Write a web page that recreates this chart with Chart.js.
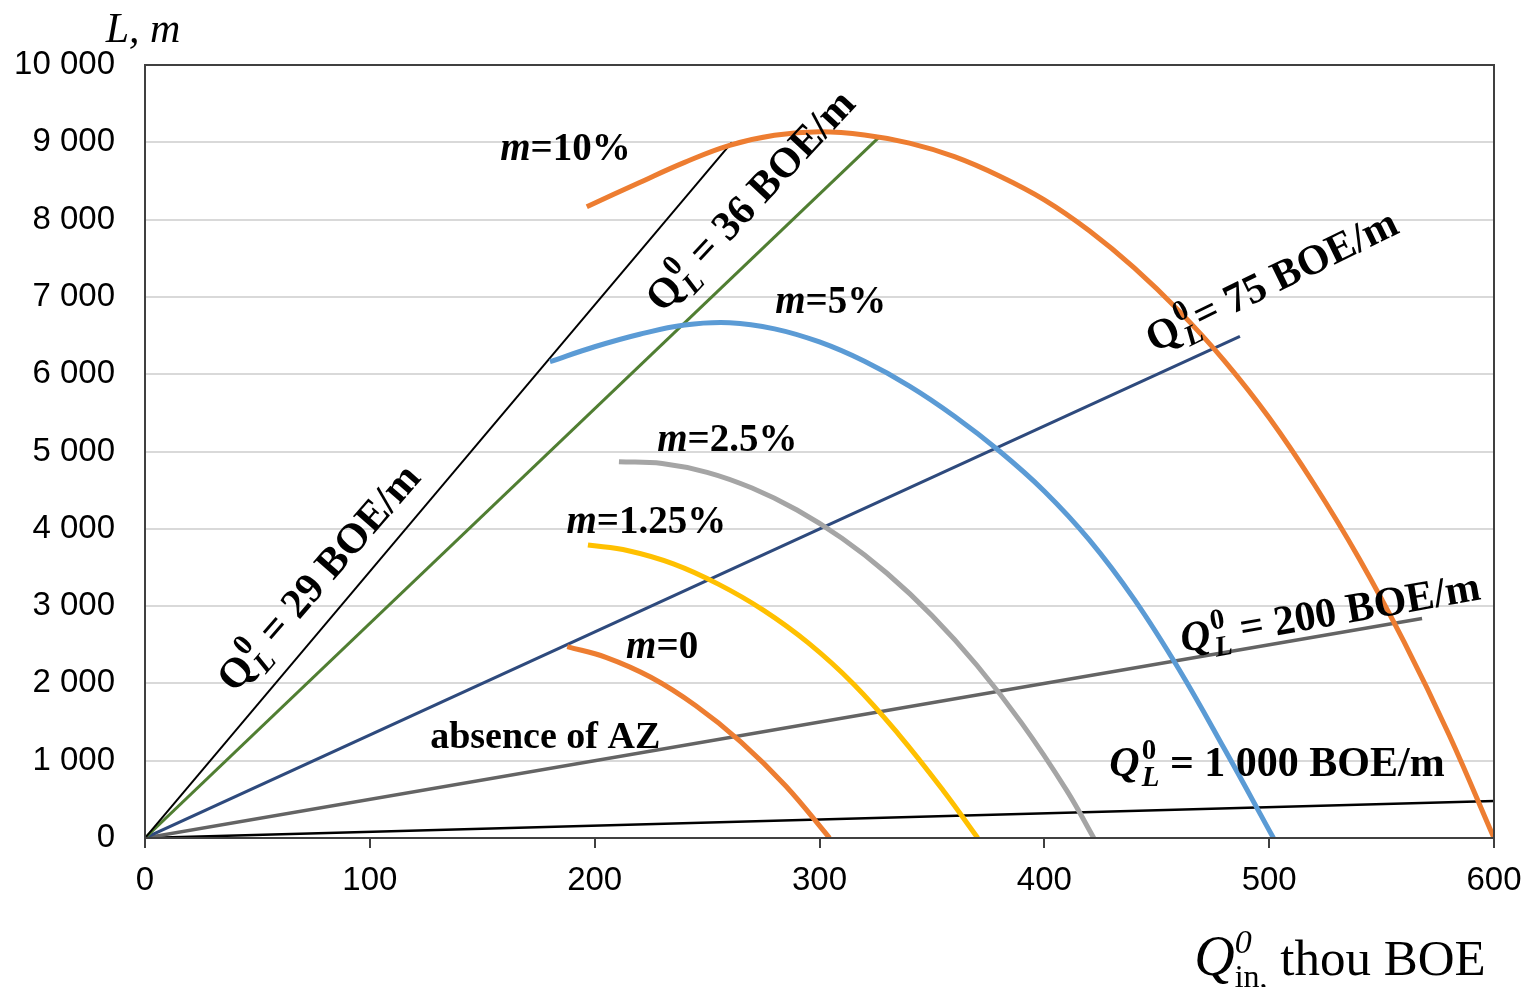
<!DOCTYPE html>
<html>
<head>
<meta charset="utf-8">
<script src="https://cdn.jsdelivr.net/npm/chart.js@4"></script>
<style>
    html, body { margin: 0; padding: 0; background: #fff; }
    canvas { display: block; }
</style>
</head>
<body>
<canvas id="chart" width="1527" height="987"></canvas>
<script>
// Q_L^0 lines (start at origin), end points
const lineNames = ['29', '36', '75', '200', '1000'];
const lineEndQ = [261, 327, 487, 568, 600];
const lineEndL = [9000, 9080, 6490, 2840, 480];

// m curves
const m0Q = [187.8, 205, 225, 245, 265, 285, 304.5];
const m0L = [2475, 2337, 2079, 1711, 1245, 673, 0];
const m125Q = [197, 215, 235, 255, 275, 295, 315, 335, 355, 370.4];
const m125L = [3790, 3716, 3546, 3284, 2948, 2524, 1996, 1348, 615, 0];
const m25Q = [210.8, 230, 250, 270, 290, 310, 330, 350, 370, 390, 410, 422];
const m25L = [4868, 4845, 4731, 4527, 4243, 3877, 3425, 2879, 2235, 1483, 613, 0];
const m5Q = [180.1, 200, 220, 240, 260, 280, 300, 320, 340, 360, 380, 400, 420, 440, 460, 480, 501.9];
const m5L = [6162, 6355, 6517, 6637, 6667, 6587, 6417, 6167, 5847, 5457, 5007, 4487, 3857, 3087, 2177, 1157, 0];
const m10Q = [196.5, 220, 240, 260, 280, 300, 320, 340, 360, 380, 400, 420, 440, 460, 480, 500, 520, 540, 560, 580, 600];
const m10L = [8167, 8480, 8740, 8960, 9090, 9135, 9095, 8990, 8815, 8565, 8256, 7856, 7376, 6816, 6176, 5436, 4576, 3616, 2536, 1336, 0];

const xTicks = [0, 100, 200, 300, 400, 500, 600];
const yTicks = [0, 1000, 2000, 3000, 4000, 5000, 6000, 7000, 8000, 9000, 10000];

const SERIF = '"Liberation Serif", "Times New Roman", serif';
const SANS = '"Liberation Sans", Arial, sans-serif';

function pts(xs, ys) {
    return xs.map((x, i) => ({ x: x, y: ys[i] }));
}

const lineColors = ['#000000', '#507e32', '#2e4a7d', '#646464', '#000000'];
const lineWidths = [2, 3, 3, 3.5, 2.5];

const datasets = [];
lineNames.forEach((n, i) => {
    datasets.push({
        label: 'Q=' + n,
        data: [{ x: 0, y: 0 }, { x: lineEndQ[i], y: lineEndL[i] }],
        borderColor: lineColors[i],
        borderWidth: lineWidths[i],
        pointRadius: 0,
        showLine: true
    });
});

function curve(label, xs, ys, color) {
    return {
        label: label,
        data: pts(xs, ys),
        borderColor: color,
        borderWidth: 5,
        pointRadius: 0,
        showLine: true,
        tension: 0.4
    };
}
datasets.unshift(
    curve('m=10%', m10Q, m10L, '#ed7d31'),
    curve('m=5%', m5Q, m5L, '#5b9bd5'),
    curve('m=2.5%', m25Q, m25L, '#a5a5a5'),
    curve('m=1.25%', m125Q, m125L, '#ffc000'),
    curve('m=0', m0Q, m0L, '#ed7d31')
);

// text labels placed in data coordinates
const mLabels = [
    { t: '10%', x: 187, y: 8940 },
    { t: '5%', x: 305, y: 6960 },
    { t: '2.5%', x: 259, y: 5175 },
    { t: '1.25%', x: 223, y: 4114 },
    { t: '0', x: 230, y: 2497 }
];
const qLabels = [
    { t: ' = 29 BOE/m', x: 77, y: 3376, a: -49, qi: false, size: 42 },
    { t: ' = 36 BOE/m', x: 269, y: 8254, a: -47, qi: false, size: 42 },
    { t: '= 75 BOE/m', x: 501, y: 7219, a: -26, qi: false, size: 42 },
    { t: ' = 200 BOE/m', x: 527, y: 2924, a: -10, qi: true, size: 42 },
    { t: ' = 1 000 BOE/m', x: 503.5, y: 983, a: 0, qi: true, size: 42 }
];

// draw a run of segments centred at (0,0) of the current transform
function drawRuns(ctx, runs, size) {
    let total = 0;
    runs.forEach(r => {
        ctx.font = r.font;
        r.w = ctx.measureText(r.text).width;
        if (r.stack) {
            ctx.font = r.stack.font;
            r.w = Math.max(r.w, ctx.measureText(r.stack.text).width);
        }
        total += r.w + (r.gap || 0);
    });
    let x = -total / 2;
    const base = size * 0.33;
    ctx.textAlign = 'left';
    ctx.textBaseline = 'alphabetic';
    runs.forEach(r => {
        ctx.font = r.font;
        ctx.fillText(r.text, x, base + (r.dy || 0));
        if (r.stack) {
            ctx.font = r.stack.font;
            ctx.fillText(r.stack.text, x, base + r.stack.dy);
        }
        x += r.w + (r.gap || 0);
    });
}

const textPlugin = {
    id: 'texts',
    afterDatasetsDraw(chart) {
        const ctx = chart.ctx;
        const xs = chart.scales.x, ys = chart.scales.y;
        const area = chart.chartArea;
        ctx.save();
        ctx.strokeStyle = '#404040';
        ctx.lineWidth = 2;
        ctx.strokeRect(area.left, area.top, area.right - area.left, area.bottom - area.top);
        ctx.fillStyle = '#000';

        mLabels.forEach(l => {
            const s = 39;
            ctx.save();
            ctx.translate(xs.getPixelForValue(l.x), ys.getPixelForValue(l.y));
            drawRuns(ctx, [
                { text: 'm', font: `italic bold ${s}px ${SERIF}` },
                { text: '=' + l.t, font: `bold ${s}px ${SERIF}` }
            ], s);
            ctx.restore();
        });

        ctx.save();
        ctx.translate(xs.getPixelForValue(178), ys.getPixelForValue(1332));
        drawRuns(ctx, [{ text: 'absence of AZ', font: `bold 38px ${SERIF}` }], 38);
        ctx.restore();

        qLabels.forEach(l => {
            const s = l.size;
            const sm = Math.round(s * 0.68);
            ctx.save();
            ctx.translate(xs.getPixelForValue(l.x), ys.getPixelForValue(l.y));
            ctx.rotate(l.a * Math.PI / 180);
            drawRuns(ctx, [
                { text: 'Q', font: `${l.qi ? 'italic ' : ''}bold ${s}px ${SERIF}`, gap: 2 },
                { text: '0', font: `bold ${sm}px ${SERIF}`, dy: -s * 0.4,
                  stack: { text: 'L', font: `italic bold ${sm}px ${SERIF}`, dy: s * 0.25 } },
                { text: l.t, font: `bold ${s}px ${SERIF}` }
            ], s);
            ctx.restore();
        });

        // axis titles
        ctx.save();
        ctx.translate(143, 28);
        drawRuns(ctx, [{ text: 'L, m', font: `italic 42px ${SERIF}` }], 42);
        ctx.restore();

        ctx.save();
        ctx.translate(1340, 958);
        drawRuns(ctx, [
            { text: 'Q', font: `italic 56px ${SERIF}` },
            { text: '0', font: `italic 34px ${SERIF}`, dy: -22,
              stack: { text: 'in,', font: `32px ${SERIF}`, dy: 12 } },
            { text: ' thou BOE', font: `51px ${SERIF}` }
        ], 50);
        ctx.restore();

        ctx.restore();
    }
};

const fmt = v => String(v).replace(/\B(?=(\d{3})+(?!\d))/g, ' ');

new Chart(document.getElementById('chart'), {
    type: 'scatter',
    data: { datasets: datasets },
    options: {
        responsive: false,
        animation: false,
        devicePixelRatio: 1,
        layout: { padding: { top: 65, right: 33, left: 0, bottom: 0 } },
        plugins: {
            legend: { display: false },
            tooltip: { enabled: false }
        },
        scales: {
            x: {
                type: 'linear',
                min: 0,
                max: 600,
                afterBuildTicks: axis => { axis.ticks = xTicks.map(v => ({ value: v })); },
                afterFit: axis => {
                    axis.height = 149;
                    axis.paddingLeft = 0;
                    axis.paddingRight = 0;
                },
                ticks: {
                    color: '#000',
                    font: { family: SANS, size: 33 },
                    padding: 13,
                    maxRotation: 0,
                    callback: v => fmt(v)
                },
                grid: {
                    drawOnChartArea: false,
                    drawTicks: true,
                    tickLength: 10,
                    color: '#404040',
                    lineWidth: 2
                },
                border: { color: '#404040', width: 2 }
            },
            y: {
                type: 'linear',
                min: 0,
                max: 10000,
                afterBuildTicks: axis => { axis.ticks = yTicks.map(v => ({ value: v })); },
                afterFit: axis => {
                    axis.width = 145;
                    axis.paddingTop = 0;
                    axis.paddingBottom = 0;
                },
                ticks: {
                    color: '#000',
                    font: { family: SANS, size: 33 },
                    padding: 30,
                    callback: v => fmt(v)
                },
                grid: {
                    color: '#d9d9d9',
                    lineWidth: 2,
                    drawTicks: false
                },
                border: { color: '#404040', width: 2 }
            }
        }
    },
    plugins: [textPlugin]
});
</script>
</body>
</html>
